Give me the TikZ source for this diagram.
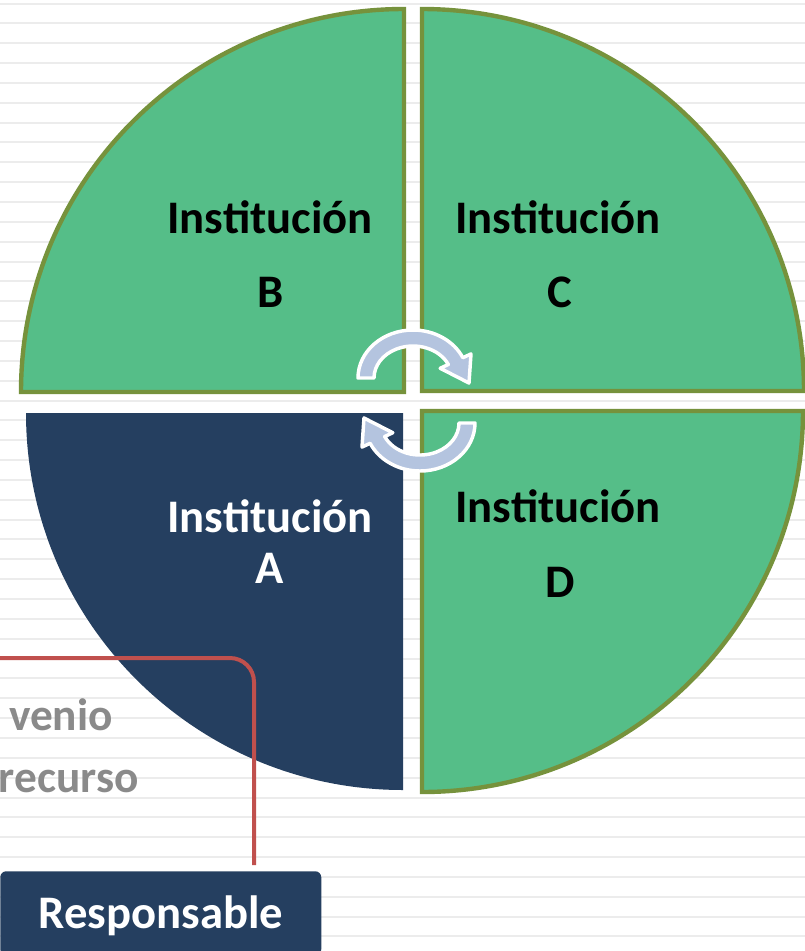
\documentclass[tikz,border=0pt]{standalone}
\usepackage{fontspec}
\setmainfont{Carlito}
\usetikzlibrary{calc}
\definecolor{quadgreen}{HTML}{55BE88}
\definecolor{quadedge}{HTML}{76923C}
\definecolor{quadnavy}{HTML}{253F60}
\definecolor{arrowblue}{HTML}{B4C4DF}
\definecolor{linkred}{HTML}{C0504D}
\definecolor{notegray}{HTML}{8A8A8A}
\definecolor{stripe}{HTML}{ECECEC}
\tikzset{
  inst/.style={anchor=base, inner sep=0pt, font=\fontsize{35}{42}\selectfont\bfseries},
  quad/.style={fill=quadgreen, draw=quadedge, line width=3.3pt},
  turn/.style={fill=arrowblue, draw=white, line width=2.6pt, line join=round},
}
\begin{document}
\begin{tikzpicture} [x=0.75pt, y=-0.75pt]
    \useasboundingbox (0,0) rectangle (805,951);
    \clip (0,0) rectangle (805,951);
    \fill [white] (0,0) rectangle (805,951);
    \foreach \k in {0,...,47}
        \draw [stripe, line width=1.5pt] (0,3.5+19.85*\k) -- (805,3.5+19.85*\k);
    \draw [quad] (404,392) -- (21,392) arc [start angle=180, end angle=270, radius=383] -- cycle;
    \draw [quad] (422,391) -- (422,9) arc [start angle=270, end angle=360, radius=382] -- cycle;
    \fill [quadnavy] (403,413) -- (26,413) arc [start angle=180, end angle=90, radius=377] -- cycle;
    \draw [quad] (422,411) -- (803,411) arc [start angle=0, end angle=90, radius=381] -- cycle;
    \coordinate (cone) at (413,378);
    \coordinate (ctwo) at (420,423);
    \draw [turn] ($(cone)+(180:55 and 48)$) arc [start angle=180, end angle=335, x radius=55, y radius=48]
        -- ($(cone)+(335:64 and 57)$) -- (469,383) -- ($(cone)+(335:30 and 23)$)
        -- ($(cone)+(335:39 and 32)$) arc [start angle=335, end angle=180, x radius=39, y radius=32] -- cycle;
    \draw [turn] ($(ctwo)+(0:55 and 48)$) arc [start angle=0, end angle=155, x radius=55, y radius=48]
        -- ($(ctwo)+(155:64 and 57)$) -- (364,418) -- ($(ctwo)+(155:30 and 23)$)
        -- ($(ctwo)+(155:39 and 32)$) arc [start angle=155, end angle=0, x radius=39, y radius=32] -- cycle;
    \path node (instb) at (270,233) [inst] {Institución}
          node (letb) at (271,307) [inst] {B}
          node (instc) at (558,233) [inst] {Institución}
          node (letc) at (560,307) [inst] {C}
          node (insta) at (270,532) [inst, white] {Institución}
          node (leta) at (270,583) [inst, white] {A}
          node (instd) at (558,522) [inst] {Institución}
          node (letd) at (560,597) [inst] {D};
    \path node (notea) at (113,730) [inst, anchor=base east, notegray, font=\fontsize{34}{40}\selectfont\bfseries] {venio}
          node (noteb) at (139,792) [inst, anchor=base east, notegray, font=\fontsize{34}{40}\selectfont\bfseries] {recurso};
    \node (resp) at (0,871) [anchor=north west, fill=quadnavy, rounded corners=4.5pt, minimum width=240.75pt,
        minimum height=63pt, inner sep=0pt, text height=22.5pt, text depth=0pt, text=white,
        font=\fontsize{35}{42}\selectfont\bfseries] {Responsable};
    \coordinate (redstart) at (-5,658);
    \draw [linkred, line width=3pt, rounded corners=18pt] (redstart) -| ($(resp.north west)!0.79!(resp.north east)+(0,-6)$);
\end{tikzpicture}
\end{document}
